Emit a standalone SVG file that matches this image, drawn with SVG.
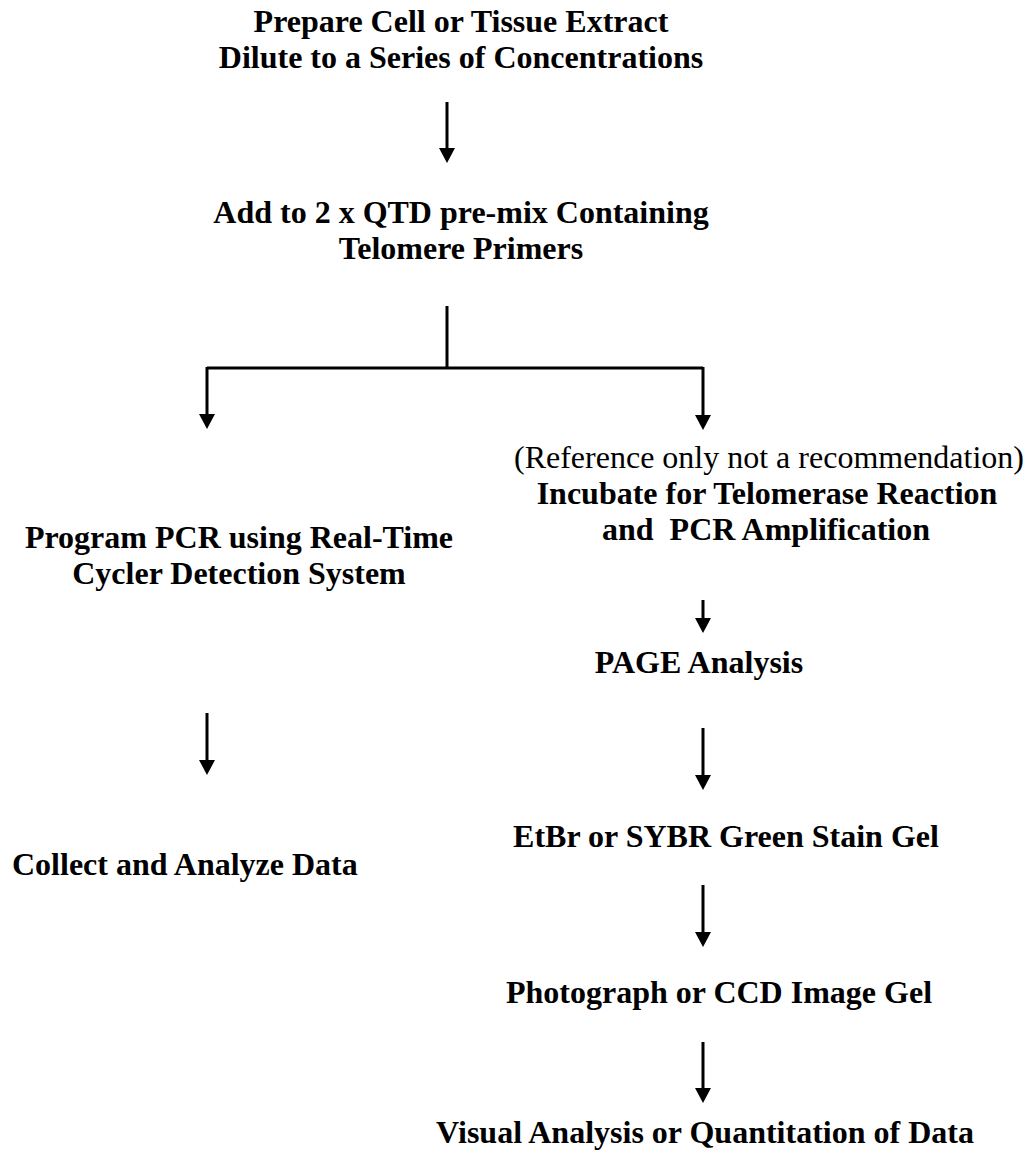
<svg xmlns="http://www.w3.org/2000/svg" width="1034" height="1150" viewBox="0 0 1034 1150">
  <style>
    .t { font-family: "Liberation Serif", "Times New Roman", serif; font-size: 32px; font-weight: bold; fill: #000; white-space: pre; }
    .r { font-weight: normal; }
    .c { stroke: #000; stroke-width: 3; fill: none; }
  </style>
  <defs>
    <marker id="ah" viewBox="0 0 15 16" refX="5" refY="8" markerWidth="15" markerHeight="16" markerUnits="userSpaceOnUse" orient="auto">
      <path d="M0,0 L15,8 L0,16 z" fill="#000"/>
    </marker>
  </defs>
  <rect width="1034" height="1150" fill="#fff"/>

  <g id="n-prepare">
    <text class="t" x="461" y="32" text-anchor="middle">Prepare Cell or Tissue Extract</text>
    <text class="t" x="461" y="68" text-anchor="middle">Dilute to a Series of Concentrations</text>
  </g>
  <g id="n-add">
    <text class="t" x="461" y="223" text-anchor="middle">Add to 2 x QTD pre-mix Containing</text>
    <text class="t" x="461" y="259" text-anchor="middle">Telomere Primers</text>
  </g>
  <g id="n-program">
    <text class="t" x="239" y="548" text-anchor="middle">Program PCR using Real-Time</text>
    <text class="t" x="239" y="584" text-anchor="middle">Cycler Detection System</text>
  </g>
  <g id="n-collect">
    <text class="t" x="12" y="875">Collect and Analyze Data</text>
  </g>
  <g id="n-incubate">
    <text class="t r" x="769" y="468" text-anchor="middle">(Reference only not a recommendation)</text>
    <text class="t" x="767" y="504" text-anchor="middle">Incubate for Telomerase Reaction</text>
    <text class="t" x="766" y="540" text-anchor="middle">and  PCR Amplification</text>
  </g>
  <g id="n-page">
    <text class="t" x="699" y="673" text-anchor="middle">PAGE Analysis</text>
  </g>
  <g id="n-stain">
    <text class="t" x="726" y="847" text-anchor="middle">EtBr or SYBR Green Stain Gel</text>
  </g>
  <g id="n-photo">
    <text class="t" x="719" y="1003" text-anchor="middle">Photograph or CCD Image Gel</text>
  </g>
  <g id="n-visual">
    <text class="t" x="705" y="1143" text-anchor="middle">Visual Analysis or Quantitation of Data</text>
  </g>

  <g id="connectors">
    <path class="c" d="M447,102 V153" marker-end="url(#ah)"/>
    <path class="c" d="M447,306 V368"/>
    <path class="c" d="M207,368 H703"/>
    <path class="c" d="M207,367 V419" marker-end="url(#ah)"/>
    <path class="c" d="M703,367 V420" marker-end="url(#ah)"/>
    <path class="c" d="M207,713 V765" marker-end="url(#ah)"/>
    <path class="c" d="M703,600 V623" marker-end="url(#ah)"/>
    <path class="c" d="M703,728 V780" marker-end="url(#ah)"/>
    <path class="c" d="M703,885 V937" marker-end="url(#ah)"/>
    <path class="c" d="M703,1042 V1093" marker-end="url(#ah)"/>
  </g>
</svg>
